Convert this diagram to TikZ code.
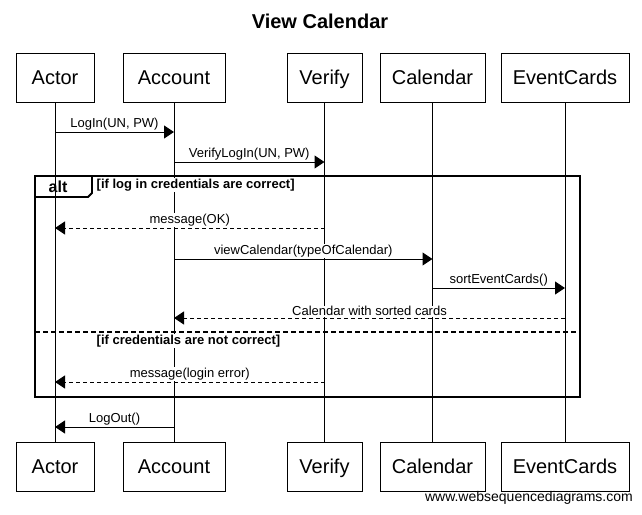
\documentclass[tikz,border=0pt]{standalone}
\usepackage{fontspec}
\setmainfont{Liberation Sans}
\usetikzlibrary{arrows.meta,positioning}

\begin{document}
\begin{tikzpicture}[x=1pt, y=-1pt,
        part/.style={rectangle, draw=black, line width=1pt, fill=white, minimum height=49pt, text height=14.5pt, text depth=0.5pt, inner sep=0pt, font=\fontsize{20}{24}\selectfont},
        lifeline/.style={line width=1pt},
        msg/.style={-{Triangle[length=10pt,width=13pt]}, line width=1pt},
        reply/.style={msg, dash pattern=on 4pt off 3pt},
        lbl/.style={font=\fontsize{13}{15}\selectfont, fill=white, inner sep=0.5pt, above=1pt},
        guard/.style={font=\bfseries\fontsize{13}{15}\selectfont, fill=white, anchor=west, inner sep=0.5pt},
        frame/.style={line width=1.8pt}
    ]
        \useasboundingbox (0,0) rectangle (642,514);
        \node[font=\bfseries\fontsize{20}{24}\selectfont] (title) at (320,21) {View Calendar};
        % participants, top row
        \node[part, minimum width=78pt] (actorTop) at (55,77.5) {Actor};
        \node[part, minimum width=102pt, right=28pt of actorTop] (accountTop) {Account};
        \node[part, minimum width=75pt, right=61pt of accountTop] (verifyTop) {Verify};
        \node[part, minimum width=105pt, right=17pt of verifyTop] (calendarTop) {Calendar};
        \node[part, minimum width=128pt, right=15pt of calendarTop] (cardsTop) {EventCards};
        % participants, bottom row
        \node[part, minimum width=78pt, below=339pt of actorTop] (actorBot) {Actor};
        \node[part, minimum width=102pt, below=339pt of accountTop] (accountBot) {Account};
        \node[part, minimum width=75pt, below=339pt of verifyTop] (verifyBot) {Verify};
        \node[part, minimum width=105pt, below=339pt of calendarTop] (calendarBot) {Calendar};
        \node[part, minimum width=128pt, below=339pt of cardsTop] (cardsBot) {EventCards};
        \foreach \p in {actor,account,verify,calendar,cards}
            \draw[lifeline] (\p Top) -- (\p Bot);
        % alt frame
        \draw[frame] (35,176) rectangle (580,397);
        \draw[frame] (35,197) -- (88,197) -- (92,193) -- (92,176);
        \node[font=\bfseries\fontsize{16}{18}\selectfont, inner sep=0pt] (altTag) at (58,187) {alt};
        \node[guard] (guardOk) at (96,185) {[if log in credentials are correct]};
        \draw[frame, dash pattern=on 5pt off 3pt] (35,332) -- (580,332);
        \node[guard] (guardErr) at (96,341) {[if credentials are not correct]};
        % messages
        \draw[msg] (actorTop |- 0,132) -- (accountTop |- 0,132) node[lbl, midway] {LogIn(UN, PW)};
        \draw[msg] (accountTop |- 0,162) -- (verifyTop |- 0,162) node[lbl, midway] {VerifyLogIn(UN, PW)};
        \draw[reply] (verifyTop |- 0,228) -- (actorTop |- 0,228) node[lbl, midway] {message(OK)};
        \draw[msg] (accountTop |- 0,259) -- (calendarTop |- 0,259) node[lbl, midway] {viewCalendar(typeOfCalendar)};
        \draw[msg] (calendarTop |- 0,288) -- (cardsTop |- 0,288) node[lbl, midway] {sortEventCards()};
        \draw[reply] (cardsTop |- 0,318) -- (accountTop |- 0,318) node[lbl, midway] {Calendar with sorted cards};
        \draw[reply] (verifyTop |- 0,382) -- (actorTop |- 0,382) node[lbl, midway] {message(login error)};
        \draw[msg] (accountTop |- 0,427) -- (actorTop |- 0,427) node[lbl, midway] {LogOut()};
        \node[font=\fontsize{14}{16}\selectfont, anchor=east, inner sep=0pt] (credit) at (633,498) {www.websequencediagrams.com};
    \end{tikzpicture}
\end{document}
